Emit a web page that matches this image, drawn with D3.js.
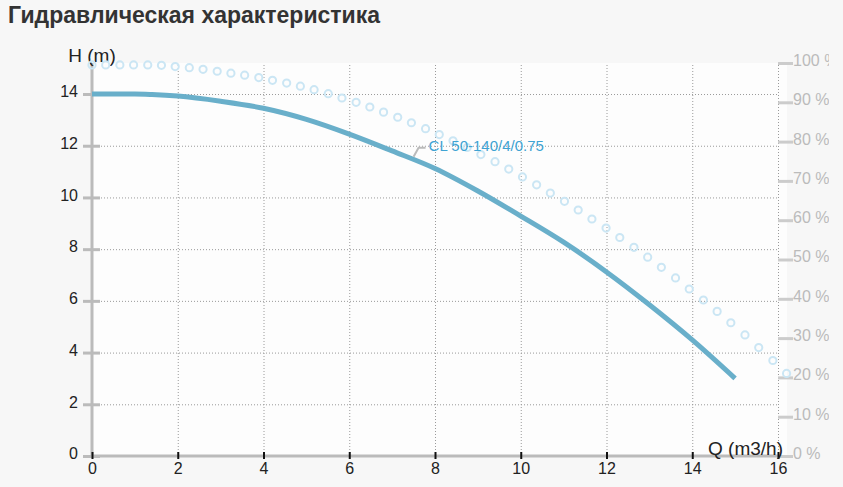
<!DOCTYPE html>
<html>
<head>
<meta charset="utf-8">
<script src="https://cdn.jsdelivr.net/npm/d3@7"></script>
<style>
  body { margin: 0; background: #f7f7f7; font-family: 'Liberation Sans', Arial, sans-serif; }
  .title { font-size: 23px; font-weight: bold; fill: #333; }
  .grid line { stroke: #9a9a9a; stroke-width: 1; stroke-dasharray: 1,2; }
  .grid .domain { display: none; }
  .axis text { font-size: 16px; font-family: 'Liberation Sans', Arial, sans-serif; }
</style>
</head>
<body>
<script>
// Data
const qTicks = [0, 2, 4, 6, 8, 10, 12, 14, 16];
const hTicks = [0, 2, 4, 6, 8, 10, 12, 14];
const effTicks = [0, 10, 20, 30, 40, 50, 60, 70, 80, 90, 100];

const curveName = 'CL 50-140/4/0.75';
const headQ = [0, 0.5, 1, 1.4, 2, 3, 4, 5, 6, 7, 8, 9, 10, 11, 12, 13, 14, 15];
const headH = [14.0, 14.0, 14.0, 13.98, 13.92, 13.72, 13.45, 13.02, 12.45, 11.8, 11.12, 10.25, 9.28, 8.27, 7.12, 5.85, 4.49, 3.0];

const effQ = [0, 0.32, 0.65, 0.97, 1.3, 1.62, 1.94, 2.27, 2.59, 2.92,
              3.24, 3.56, 3.89, 4.21, 4.54, 4.86, 5.18, 5.51, 5.83, 6.16,
              6.48, 6.8, 7.13, 7.45, 7.78, 8.1, 8.42, 8.75, 9.07, 9.4,
              9.72, 10.04, 10.37, 10.69, 11.02, 11.34, 11.66, 11.99, 12.31, 12.64,
              12.96, 13.28, 13.61, 13.93, 14.26, 14.58, 14.9, 15.23, 15.55, 15.88, 16.2];
const effP = [99.5, 99.5, 99.5, 99.5, 99.5, 99.4, 99.1, 98.8, 98.4, 97.9,
              97.4, 96.9, 96.3, 95.6, 94.9, 94.1, 93.2, 92.2, 91.1, 90.0,
              88.8, 87.5, 86.2, 84.8, 83.3, 81.8, 80.2, 78.5, 76.7, 74.9,
              73.0, 71.0, 69.0, 66.9, 64.8, 62.6, 60.3, 58.0, 55.6, 53.1,
              50.6, 48.0, 45.3, 42.5, 39.7, 36.8, 33.9, 30.8, 27.6, 24.3, 21.0];

// Margin convention
const margin = { top: 63, right: 51, bottom: 31, left: 92 };
const width = 829 - margin.left - margin.right;   // 686
const height = 487 - margin.top - margin.bottom;  // 393

// Scales
const xScale = d3.scaleLinear().domain([0, 16]).range([0, width]);
const yScale = d3.scaleLinear().domain([0, 15.2]).range([height, 0]);
const effScale = d3.scaleLinear().domain([0, 100]).range([height, 0]);

const root = d3.select('body').append('svg')
    .attr('width', 829)
    .attr('height', 487);

root.append('text')
    .attr('class', 'title')
    .attr('x', 8)
    .attr('y', 23)
    .text('Гидравлическая характеристика');

const svg = root.append('g')
    .attr('transform', `translate(${margin.left},${margin.top})`);

// plot background
svg.append('rect')
    .attr('width', width + 9)
    .attr('height', height)
    .attr('fill', '#fdfdfd');

// Grid
svg.append('g')
    .attr('class', 'grid')
    .attr('transform', `translate(0, ${height})`)
    .call(d3.axisBottom(xScale).tickValues(qTicks.slice(1)).tickSize(-height).tickFormat(''));

svg.append('g')
    .attr('class', 'grid')
    .call(d3.axisLeft(yScale).tickValues(hTicks.slice(1)).tickSize(-width).tickFormat(''));

// Right axis (efficiency %)
const rightAxis = svg.append('g')
    .attr('class', 'axis')
    .attr('transform', `translate(${width}, 0)`)
    .call(d3.axisRight(effScale).tickValues(effTicks).tickSize(15).tickFormat(d => d + ' %'));
rightAxis.select('.domain').remove();
rightAxis.selectAll('line').attr('stroke', '#cccccc').attr('stroke-width', 3);
rightAxis.selectAll('text').attr('fill', '#bbbbbb').attr('x', 15).attr('dy', '0.15em');

// Left axis (H)
const leftAxis = svg.append('g')
    .attr('class', 'axis')
    .call(d3.axisLeft(yScale).tickValues(hTicks).tickSizeOuter(0).tickSizeInner(9).tickPadding(5));
leftAxis.select('.domain')
    .attr('d', `M0,0V${height}`)
    .attr('stroke', '#bbbbbb')
    .attr('stroke-width', 3);
leftAxis.selectAll('.tick line')
    .attr('x2', 8).attr('x1', -9)
    .attr('stroke', '#bbbbbb').attr('stroke-width', 3);
leftAxis.selectAll('text').attr('fill', '#222').attr('dy', '0.17em');

// Bottom axis (Q)
const bottomAxis = svg.append('g')
    .attr('class', 'axis')
    .attr('transform', `translate(0, ${height})`)
    .call(d3.axisBottom(xScale).tickValues(qTicks).tickSizeOuter(0).tickSizeInner(3).tickPadding(5));
bottomAxis.select('.domain')
    .attr('d', `M0,0H${width + 2}`)
    .attr('stroke', '#bbbbbb')
    .attr('stroke-width', 3);
bottomAxis.selectAll('.tick line')
    .attr('y1', -4).attr('y2', 3)
    .attr('stroke', '#111').attr('stroke-width', 2);
bottomAxis.selectAll('text').attr('fill', '#222').attr('dy', '0.62em');

// Axis labels
svg.append('text')
    .attr('x', 0)
    .attr('y', -1)
    .attr('text-anchor', 'middle')
    .attr('font-size', '19px')
    .attr('fill', '#222')
    .text('H (m)');

svg.append('text')
    .attr('x', width + 5)
    .attr('y', height - 1)
    .attr('text-anchor', 'end')
    .attr('font-size', '19px')
    .attr('fill', '#222')
    .text('Q (m3/h)');

// Efficiency circles
svg.append('g')
    .selectAll('circle')
    .data(effQ.map((q, i) => ({ q, p: effP[i] })))
    .join('circle')
    .attr('cx', d => xScale(d.q))
    .attr('cy', d => effScale(d.p))
    .attr('r', 3.6)
    .attr('fill', 'none')
    .attr('stroke', '#cbe6f4')
    .attr('stroke-width', 2);

// Head curve
const headData = headQ.map((q, i) => ({ q, h: headH[i] }));
const line = d3.line()
    .x(d => xScale(d.q))
    .y(d => yScale(d.h))
    .curve(d3.curveMonotoneX);

svg.append('path')
    .datum(headData)
    .attr('d', line)
    .attr('fill', 'none')
    .attr('stroke', '#69afca')
    .attr('stroke-width', 5)
    .attr('stroke-linecap', 'butt');

// Curve label with leader
const labelQ = 7.5;
const lx = xScale(labelQ);
const ly = yScale(d3.interpolateNumber(headH[9], headH[10])(0.5));
svg.append('path')
    .attr('d', `M${lx},${ly - 3}L${lx + 5},${ly - 12}H${lx + 12}`)
    .attr('fill', 'none')
    .attr('stroke', '#bbbbbb')
    .attr('stroke-width', 2);

svg.append('text')
    .attr('x', lx + 15)
    .attr('y', ly - 9)
    .attr('font-size', '15px')
    .attr('fill', '#3fa3d3')
    .text(curveName);
</script>
</body>
</html>
